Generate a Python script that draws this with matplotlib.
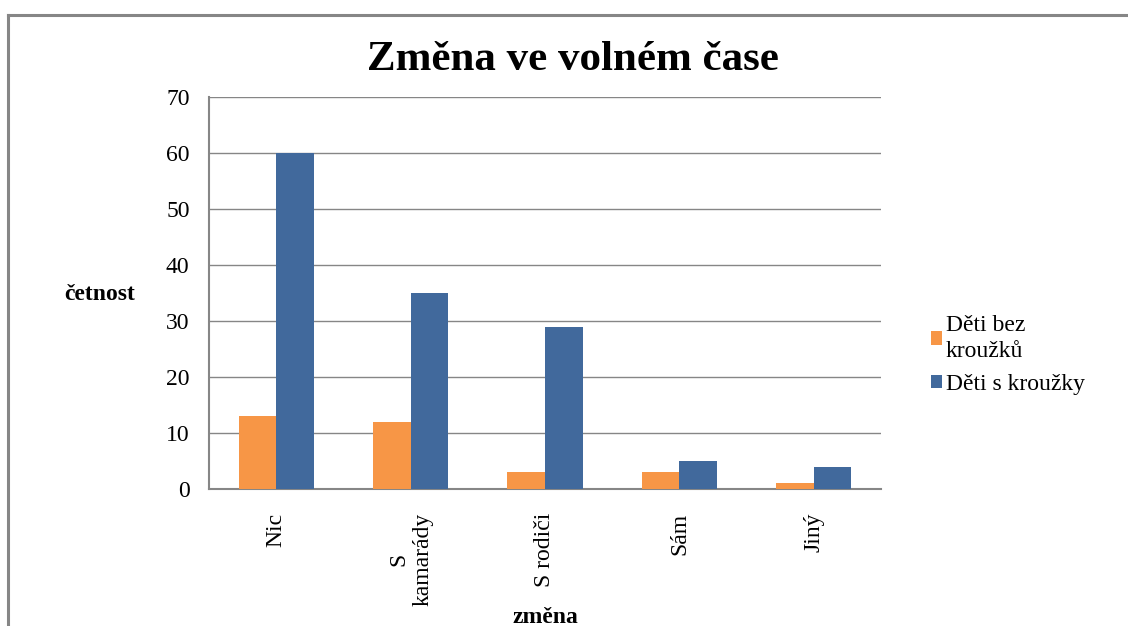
import numpy as np
import matplotlib
matplotlib.use("Agg")
import matplotlib.pyplot as plt
from matplotlib.lines import Line2D

plt.rcParams['font.family'] = ['Liberation Serif', 'DejaVu Serif']

# --- data ---
categories = ["Nic", "S\nkamarády", "S rodiči", "Sám", "Jiný"]
bez_krouzku = [13, 12, 3, 3, 1]
s_krouzky = [60, 35, 29, 5, 4]
series_labels = ["Děti bez\nkroužků", "Děti s kroužky"]
y_ticks = [0, 10, 20, 30, 40, 50, 60, 70]

ORANGE = '#F79646'
BLUE = '#41699C'
GRAY = '#868686'

fig = plt.figure(figsize=(11.28, 6.26), dpi=100)
ax = fig.add_axes([0.1853, 0.2188, 0.5957, 0.6262])

x = np.arange(len(categories))
w = 0.28
ax.bar(x - w / 2, bez_krouzku, w, color=ORANGE, label=series_labels[0], zorder=3)
ax.bar(x + w / 2, s_krouzky, w, color=BLUE, label=series_labels[1], zorder=3)

ax.set_xlim(-0.5, len(categories) - 0.5)
ax.set_ylim(0, 70)
ax.set_yticks(y_ticks)
ax.yaxis.grid(True, color=GRAY, linewidth=1, zorder=0)

ax.set_xticks(x)
ax.set_xticklabels(categories, rotation=90, va='top', ha='center',
                   multialignment='center', fontsize=17)
ax.tick_params(axis='x', length=0, pad=17)
ax.tick_params(axis='y', length=0, pad=14, labelsize=17)

for side in ['top', 'right']:
    ax.spines[side].set_visible(False)
for side in ['left', 'bottom']:
    ax.spines[side].set_color(GRAY)
    ax.spines[side].set_linewidth(1.5)

ax.set_ylabel("četnost", rotation=0, fontsize=17, fontweight='bold', va='center', ha='center')
ax.yaxis.set_label_coords(-0.162, 0.495)
ax.set_xlabel("změna", fontsize=17, fontweight='bold', va='center')
ax.xaxis.set_label_coords(0.5, -0.327)

fig.text(0.508, 0.904, "Změna ve volném čase", fontsize=31, fontweight='bold',
         ha='center', va='center')

leg = fig.legend(loc='center left', bbox_to_anchor=(0.825, 0.433), frameon=False,
                 fontsize=17, handlelength=0.5, handleheight=0.5, handletextpad=0.15,
                 borderpad=0, borderaxespad=0, labelspacing=0.5)
for t in leg.get_texts():
    t.set_linespacing(1.3)

# outer chart border (cropped)
fig.add_artist(Line2D([0.0071, 1.0], [0.976, 0.976], transform=fig.transFigure,
                      color=GRAY, linewidth=2.2))
fig.add_artist(Line2D([0.0071, 0.0071], [0.0, 0.976], transform=fig.transFigure,
                      color=GRAY, linewidth=2.2))

fig.savefig("out.png", dpi=100)
